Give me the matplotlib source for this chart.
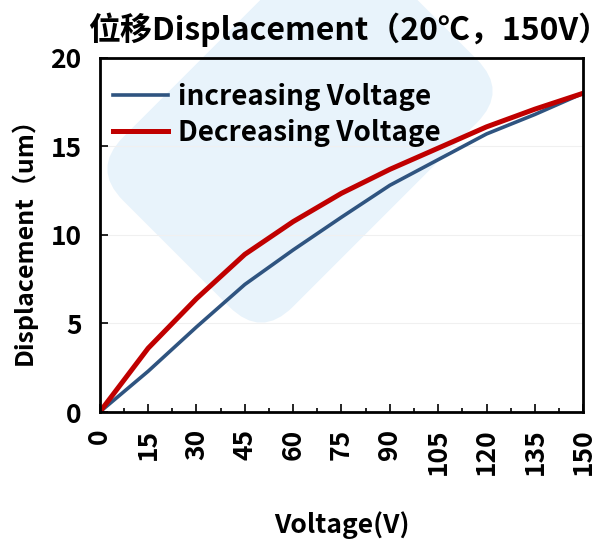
import matplotlib
matplotlib.use('Agg')
import matplotlib.pyplot as plt
from matplotlib.patches import FancyBboxPatch
import matplotlib.transforms as mtransforms

plt.rcParams['font.family'] = ['Noto Sans CJK SC', 'DejaVu Sans']
plt.rcParams['font.weight'] = 'bold'

# datos
voltaje = [0, 15, 30, 45, 60, 75, 90, 105, 120, 135, 150]
subida = [0, 2.3, 4.8, 7.2, 9.15, 11.0, 12.8, 14.25, 15.7, 16.8, 18.0]
bajada = [0, 3.6, 6.4, 8.9, 10.75, 12.35, 13.7, 14.9, 16.1, 17.1, 18.0]
etiquetas = ['increasing Voltage', 'Decreasing Voltage']

fig = plt.figure(figsize=(6.12, 5.4), dpi=100)
ax = fig.add_axes([0.163, 0.237, 0.79, 0.656])

# marca de agua aproximada (en pixeles)
rot = mtransforms.Affine2D().rotate_deg_around(300, 410, 45)
wm = FancyBboxPatch((300 - 175, 410 - 120), 350, 240,
                    boxstyle='round,pad=0,rounding_size=45',
                    transform=rot, facecolor='#e8f3fb', edgecolor='none', zorder=-10)
fig.patches.append(wm)
ax.set_facecolor('none')

ax.plot(voltaje, subida, color='#2f5480', lw=2.6, label=etiquetas[0])
ax.plot(voltaje, bajada, color='#c00000', lw=3.6, label=etiquetas[1])

ax.set_xlim(0, 150)
ax.set_ylim(0, 20)
ax.set_xticks(voltaje)
ax.set_xticks([v + 7.5 for v in voltaje[:-1]], minor=True)
ax.set_yticks([0, 5, 10, 15, 20])
ax.tick_params(axis='both', direction='in', length=6, width=1.2, labelsize=19)
ax.tick_params(axis='x', which='minor', direction='in', length=3, width=1.2)
ax.tick_params(axis='x', rotation=90, pad=12)
ax.tick_params(axis='y', pad=13)
for lab in ax.get_xticklabels() + ax.get_yticklabels():
    lab.set_fontweight('bold')
for s in ax.spines.values():
    s.set_linewidth(2)
ax.grid(axis='y', color='#f0f0f0', lw=0.8)

ax.set_xlabel('Voltage(V)', fontsize=19, fontweight='bold', labelpad=26)
ax.set_ylabel('Displacement（um）', fontsize=18, fontweight='bold', labelpad=10)
fig.text(349 / 612, 1 - 30 / 540, '位移Displacement（20℃，150V）', fontsize=23,
         fontweight='bold', ha='center', va='center')

ax.legend(loc='upper left', frameon=False, handlelength=2.0, handletextpad=0.35,
          prop={'weight': 'bold', 'size': 20}, borderaxespad=0, borderpad=0,
          bbox_to_anchor=(13 / 483, (412 - 83) / 354), labelspacing=0.3)

fig.savefig('out.png', dpi=100)
